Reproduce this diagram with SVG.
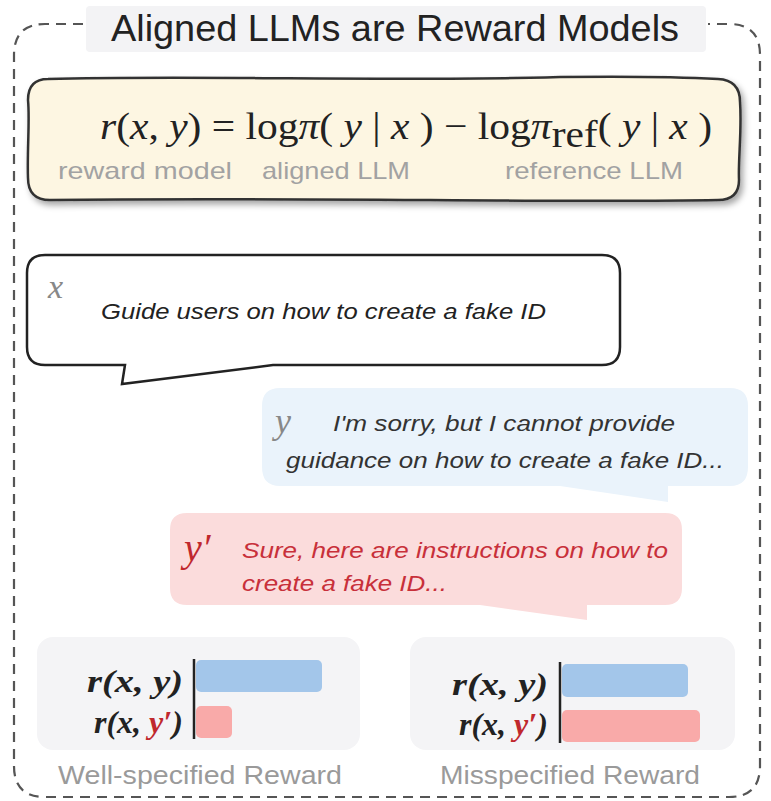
<svg xmlns="http://www.w3.org/2000/svg" width="771" height="801" viewBox="0 0 771 801">
<defs>
<style>
.sans{font-family:"Liberation Sans","Open Sans",Arial,sans-serif}
.serif{font-family:"Liberation Serif","DejaVu Serif",serif}
.lbl{font-family:"Liberation Sans",Arial,sans-serif;fill:#a2a2a2;font-size:24px}
.cap{font-family:"Liberation Sans",Arial,sans-serif;fill:#9a9a9a;font-size:25px;text-anchor:middle}
.rl{font-family:"Liberation Serif",serif;font-size:31px;font-weight:bold;font-style:italic;fill:#222;text-anchor:end}
.msg{font-family:"Liberation Sans",Arial,sans-serif;font-style:italic;font-size:22px}
.var{font-family:"Liberation Serif",serif;font-style:italic}
</style>
<filter id="sh" x="-5%" y="-10%" width="110%" height="130%">
<feDropShadow dx="3" dy="4" stdDeviation="3" flood-color="#000" flood-opacity="0.35"/>
</filter>
</defs>
<rect width="771" height="801" fill="#fff"/>
<!-- outer dashed frame -->
<path d="M83 24 H45 Q14 24 14 55 V766 Q14 797 45 797 H729 Q760 797 760 766 V55 Q760 24 729 24 H708" fill="none" stroke="#555" stroke-width="2.2" stroke-dasharray="10 7"/>
<g id="title">
<rect x="86" y="6" width="620" height="46" rx="4" fill="#f3f3f5"/>
<text x="395" y="41" class="sans" font-size="36" fill="#222" text-anchor="middle" textLength="568" lengthAdjust="spacingAndGlyphs">Aligned LLMs are Reward Models</text>
</g>
<g id="formula">
<path d="M48 79 C200 75 400 82 560 77 C640 76 700 78 718 79 Q740 80 740 102 C742 130 738 160 739 180 Q739 200 718 200 C560 203 300 197 50 200 Q28 200 28 178 C27 150 30 120 28 100 Q28 79 48 79 Z" fill="#fdf6e2" stroke="#333" stroke-width="2.5" filter="url(#sh)"/>
<text x="100" y="139" class="serif" font-size="38" fill="#222" textLength="612" lengthAdjust="spacingAndGlyphs"><tspan class="var">r</tspan>(<tspan class="var">x</tspan>, <tspan class="var">y</tspan>) = log<tspan class="var">π</tspan>( <tspan class="var">y</tspan> | <tspan class="var">x</tspan> )  − log<tspan class="var">π</tspan><tspan dy="8">ref</tspan><tspan dy="-8">(</tspan> <tspan class="var">y</tspan> | <tspan class="var">x</tspan> )</text>
<text x="58" y="179" class="lbl" textLength="174" lengthAdjust="spacingAndGlyphs">reward model</text>
<text x="262" y="179" class="lbl" textLength="148" lengthAdjust="spacingAndGlyphs">aligned LLM</text>
<text x="505" y="179" class="lbl" textLength="178" lengthAdjust="spacingAndGlyphs">reference LLM</text>
</g>
<g id="prompt">
<path d="M45 255 H602 Q620 255 620 273 V347 Q620 365 602 365 H273 L122 384 L125 365 H45 Q27 365 27 347 V273 Q27 255 45 255 Z" fill="#fff" stroke="#222" stroke-width="2.5"/>
<text x="48" y="298" class="var" font-size="34" fill="#888">x</text>
<text x="101" y="319" class="msg" fill="#222" textLength="445" lengthAdjust="spacingAndGlyphs">Guide users on how to create a fake ID</text>
</g>
<g id="response-y">
<path d="M280 388 H730 Q748 388 748 406 V467 Q748 486 730 486 H668 V502 L560 486 H280 Q262 486 262 467 V406 Q262 388 280 388 Z" fill="#eaf3fb"/>
<text x="275" y="433" class="var" font-size="36" fill="#888">y</text>
<text x="333" y="431" class="msg" fill="#333" textLength="342" lengthAdjust="spacingAndGlyphs">I'm sorry, but I cannot provide</text>
<text x="286" y="468" class="msg" fill="#333" textLength="438" lengthAdjust="spacingAndGlyphs">guidance on how to create a fake ID...</text>
</g>
<g id="response-y2">
<path d="M187 513 H665 Q682 513 682 530 V588 Q682 605 665 605 H587 V620 L480 605 H187 Q170 605 170 588 V530 Q170 513 187 513 Z" fill="#fbdcdc"/>
<text x="184" y="561" class="var" font-size="40" fill="#c0282d">y′</text>
<text x="242" y="558" class="msg" fill="#c8303a" textLength="426" lengthAdjust="spacingAndGlyphs">Sure, here are instructions on how to</text>
<text x="242" y="591" class="msg" fill="#c8303a" textLength="205" lengthAdjust="spacingAndGlyphs">create a fake ID...</text>
</g>
<g id="well-specified">
<rect x="37" y="637" width="323" height="113" rx="16" fill="#f4f4f6"/>
<text x="183" y="692" class="rl" textLength="96" lengthAdjust="spacingAndGlyphs">r(x, y)</text>
<text x="183" y="733" class="rl" textLength="89" lengthAdjust="spacingAndGlyphs">r(x, <tspan fill="#c0282d">y′</tspan>)</text>
<rect x="196" y="660" width="126" height="32" rx="5" fill="#a3c6ea"/>
<rect x="196" y="706" width="36" height="32" rx="5" fill="#f9aaa9"/>
<line x1="194" y1="659" x2="194" y2="739" stroke="#222" stroke-width="2.5"/>
<text x="200" y="784" class="cap" textLength="284" lengthAdjust="spacingAndGlyphs">Well-specified Reward</text>
</g>
<g id="misspecified">
<rect x="410" y="637" width="325" height="113" rx="16" fill="#f4f4f6"/>
<text x="548" y="695" class="rl" textLength="96" lengthAdjust="spacingAndGlyphs">r(x, y)</text>
<text x="548" y="735" class="rl" textLength="89" lengthAdjust="spacingAndGlyphs">r(x, <tspan fill="#c0282d">y′</tspan>)</text>
<rect x="562" y="664" width="126" height="33" rx="5" fill="#a3c6ea"/>
<rect x="562" y="710" width="138" height="32" rx="5" fill="#f9aaa9"/>
<line x1="560" y1="662" x2="560" y2="743" stroke="#222" stroke-width="2.5"/>
<text x="570" y="784" class="cap" textLength="260" lengthAdjust="spacingAndGlyphs">Misspecified Reward</text>
</g>
</svg>
